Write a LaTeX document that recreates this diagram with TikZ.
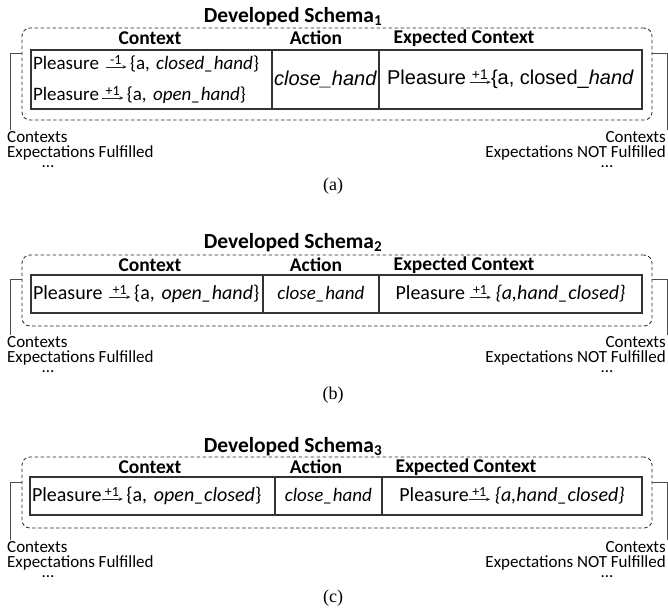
\documentclass[tikz,border=0pt]{standalone}
\usepackage{fontspec}
\setmainfont{Carlito}
\newfontfamily\arialfont{Liberation Sans}
\newfontfamily\timesfont{Liberation Serif}
\usetikzlibrary{positioning,arrows.meta}

% value over a short arrow
\newcommand{\gain}[1]{\makebox[21pt][c]{\raisebox{5pt}{\fontsize{14}{14}\selectfont #1}}\hspace{-21pt}%
  \tikz[baseline=0pt,x=1pt,y=1pt]\draw[-{Stealth[length=4pt,width=3.5pt]},line width=0.6pt,black!85] (0,2.5) -- (21,2.5);}

\tikzset{
  schemabox/.style={draw=black!85, dash pattern=on 3.5pt off 2.5pt, line width=0.8pt, rounded corners=8pt, inner sep=0pt},
  cellbox/.style={draw=black!80, line width=1.4pt, inner sep=2pt, outer sep=0pt},
  headtext/.style={font=\bfseries\fontsize{19.5}{19.5}\selectfont},
  titletext/.style={font=\bfseries\fontsize{21.5}{21.5}\selectfont},
  bodytext/.style={font=\fontsize{19}{31}\selectfont},
  widetext/.style={font=\fontsize{20}{24}\selectfont},
  arialtext/.style={font=\arialfont\fontsize{20}{24}\selectfont},
  notetext/.style={font=\fontsize{17}{15}\selectfont, inner sep=0pt},
  brackline/.style={draw=black!70, line width=0.8pt},
  captext/.style={font=\timesfont\fontsize{18}{18}\selectfont}
}

\begin{document}
\begin{tikzpicture}[x=1pt,y=-1pt]
\useasboundingbox (0,0) rectangle (668,610);

% (a)
\node[schemabox, minimum width=630pt, minimum height=92pt] (fa) at (337,74) {};
\node[titletext] (ta) at (293,17) {Developed Schema\textsubscript{1}};
\node[cellbox, bodytext, anchor=north west, minimum height=59pt, text width=237pt, inner ysep=0pt, align=left] (ca) at (31,50)
  {Pleasure \gain{-1}\,\{a, \textit{closed\_hand}\}\\Pleasure\,\gain{+1}\,\{a, \textit{open\_hand}\}};
\node[cellbox, arialtext, anchor=north west, minimum height=59pt, minimum width=107pt, inner sep=0pt] (aa) at (ca.north east) {\textit{close\_hand}};
\node[cellbox, arialtext, anchor=north west, minimum height=59pt, minimum width=263pt] (ea) at (aa.north east) {Pleasure\,\gain{+1}\{a, closed\_\textit{hand}};
\node[headtext] (hca) at (150,38) {Context};
\node[headtext] (haa) at (316,38) {Action};
\node[headtext] (hea) at (464,38) {Expected Context};
\coordinate (la) at (10,130);
\coordinate (ra) at (667,130);
\draw[brackline] ([yshift=-3pt]ca.north -| fa.west) -| (la);
\draw[brackline] ([yshift=-3pt]ea.north -| fa.east) -| (ra);
\node[notetext, anchor=north west, align=left] (nla) at (7,131) {Contexts\\Expectations Fulfilled};
\node[notetext, anchor=north east, align=right] (nra) at (666,131) {Contexts\\Expectations NOT Fulfilled};
\node[notetext] (dla) at (48,167) {...};
\node[notetext] (dra) at (607,167) {...};
\node[captext] (capa) at (333,186) {(a)};

% (b)
\node[schemabox, minimum width=630pt, minimum height=71pt] (fb) at (337,290.5) {};
\node[titletext] (tb) at (293,243) {Developed Schema\textsubscript{2}};
\node[cellbox, widetext, anchor=north west, minimum height=38pt, text width=228pt, align=left] (cb) at (31,275)
  {Pleasure \gain{+1}\,\{a, \textit{open\_hand}\}};
\node[cellbox, bodytext, right=0pt of cb, minimum height=38pt, minimum width=116pt] (ab) {\textit{close\_hand}};
\node[cellbox, widetext, right=0pt of ab, minimum height=38pt, minimum width=263pt] (eb) {Pleasure \gain{+1} \textit{\{a,hand\_closed\}}};
\node[headtext] (hcb) at (150,265) {Context};
\node[headtext] (hab) at (316,265) {Action};
\node[headtext] (heb) at (464,265) {Expected Context};
\coordinate (lb) at (10,335);
\coordinate (rb) at (667,335);
\draw[brackline] ([yshift=-4pt]cb.north -| fb.west) -| (lb);
\draw[brackline] ([yshift=-4pt]eb.north -| fb.east) -| (rb);
\node[notetext, anchor=north west, align=left] (nlb) at (7,336) {Contexts\\Expectations Fulfilled};
\node[notetext, anchor=north east, align=right] (nrb) at (666,336) {Contexts\\Expectations NOT Fulfilled};
\node[notetext] (dlb) at (48,372) {...};
\node[notetext] (drb) at (607,372) {...};
\node[captext] (capb) at (333,395) {(b)};

% (c)
\node[schemabox, minimum width=630pt, minimum height=71pt] (fc) at (337,492.5) {};
\node[titletext] (tc) at (293,447) {Developed Schema\textsubscript{3}};
\node[cellbox, widetext, anchor=north west, minimum height=38pt, text width=241pt, align=left] (cc) at (30,477)
  {Pleasure\gain{+1}\,\{a, \textit{open\_closed}\}};
\node[cellbox, bodytext, right=0pt of cc, minimum height=38pt, minimum width=107pt] (ac) {\textit{close\_hand}};
\node[cellbox, widetext, right=0pt of ac, minimum height=38pt, minimum width=260pt] (ec) {Pleasure\gain{+1} \textit{\{a,hand\_closed\}}};
\node[headtext] (hcc) at (150,467) {Context};
\node[headtext] (hac) at (316,467) {Action};
\node[headtext] (hec) at (466,467) {Expected Context};
\coordinate (lc) at (10,540);
\coordinate (rc) at (667,540);
\draw[brackline] ([yshift=-5pt]cc.north -| fc.west) -| (lc);
\draw[brackline] ([yshift=-5pt]ec.north -| fc.east) -| (rc);
\node[notetext, anchor=north west, align=left] (nlc) at (7,541) {Contexts\\Expectations Fulfilled};
\node[notetext, anchor=north east, align=right] (nrc) at (666,541) {Contexts\\Expectations NOT Fulfilled};
\node[notetext] (dlc) at (48,577) {...};
\node[notetext] (drc) at (607,577) {...};
\node[captext] (capc) at (333,598) {(c)};
\end{tikzpicture}
\end{document}
